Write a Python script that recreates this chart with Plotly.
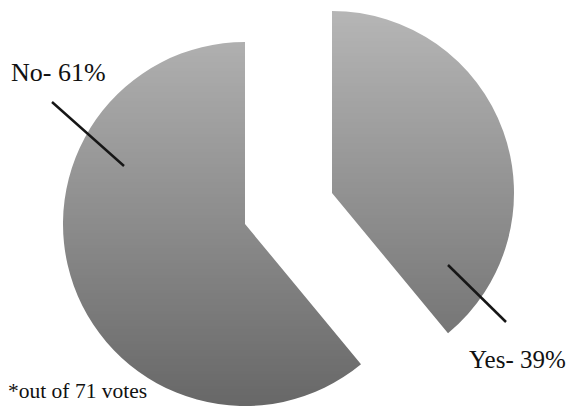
import plotly.graph_objects as go

# ---- data ----
labels = ["Yes", "No"]
values = [39, 61]
label_texts = ["Yes- 39%", "No- 61%"]
footnote = "*out of 71 votes"

W, H = 569, 410
BASE = "#686868"          # darkest tone of the gradient (bottom)
TOP_G, BOT_G = 182, 104   # gray levels top / bottom
CLEAR = "rgba(0,0,0,0)"


def px(x):
    return x / W


def py(y):
    return 1 - y / H


fig = go.Figure()

# "No" slice (un-pulled)
fig.add_trace(go.Pie(
    labels=labels, values=values, sort=False, direction="clockwise", rotation=0,
    marker=dict(colors=[CLEAR, BASE], line=dict(width=0)),
    textinfo="none", hoverinfo="label+percent", showlegend=False,
    domain=dict(x=[px(63), px(427)], y=[py(406), py(42)]),
))
# "Yes" slice (pulled out)
fig.add_trace(go.Pie(
    labels=labels, values=values, sort=False, direction="clockwise", rotation=0,
    marker=dict(colors=[BASE, CLEAR], line=dict(width=0)),
    textinfo="none", hoverinfo="label+percent", showlegend=False,
    domain=dict(x=[px(150), px(514)], y=[py(375), py(11)]),
))

# vertical gradient: translucent white bands (invisible on white background)
shapes = []
y0, y1, step = 8, 410, 3
y = y0
while y < y1:
    yc = y + step / 2
    g = TOP_G + (BOT_G - TOP_G) * (yc - 11) / (406 - 11)
    g = max(min(g, 255), BOT_G)
    a = (g - BOT_G) / (255 - BOT_G)
    shapes.append(dict(type="rect", xref="paper", yref="paper", layer="above",
                       x0=px(50), x1=px(525), y0=py(min(y + step, y1)), y1=py(y),
                       fillcolor=f"rgba(255,255,255,{a:.4f})", line=dict(width=0)))
    y += step

# leader lines
for (xa, ya, xb, yb) in [(52, 102, 124, 166), (448, 265, 506, 322)]:
    shapes.append(dict(type="line", xref="paper", yref="paper", layer="above",
                       x0=px(xa), y0=py(ya), x1=px(xb), y1=py(yb),
                       line=dict(color="#161616", width=2.5)))

serif = "Liberation Serif, Times New Roman, serif"
annotations = [
    dict(text=label_texts[1], xref="paper", yref="paper", x=px(9), y=py(73),
         xanchor="left", yanchor="middle", showarrow=False,
         font=dict(family=serif, size=26, color="#111111")),
    dict(text=label_texts[0], xref="paper", yref="paper", x=px(467), y=py(359),
         xanchor="left", yanchor="middle", showarrow=False,
         font=dict(family=serif, size=25, color="#111111")),
    dict(text=footnote, xref="paper", yref="paper", x=px(6), y=py(391),
         xanchor="left", yanchor="middle", showarrow=False,
         font=dict(family=serif, size=21.5, color="#111111")),
]

fig.update_layout(
    width=W, height=H, margin=dict(l=0, r=0, t=0, b=0),
    paper_bgcolor="white", plot_bgcolor="white",
    shapes=shapes, annotations=annotations, showlegend=False,
)

fig.write_html(
    "out.html",
    config={"displayModeBar": False},
    post_script="document.body.style.margin='0';document.body.style.overflow='hidden';",
)
